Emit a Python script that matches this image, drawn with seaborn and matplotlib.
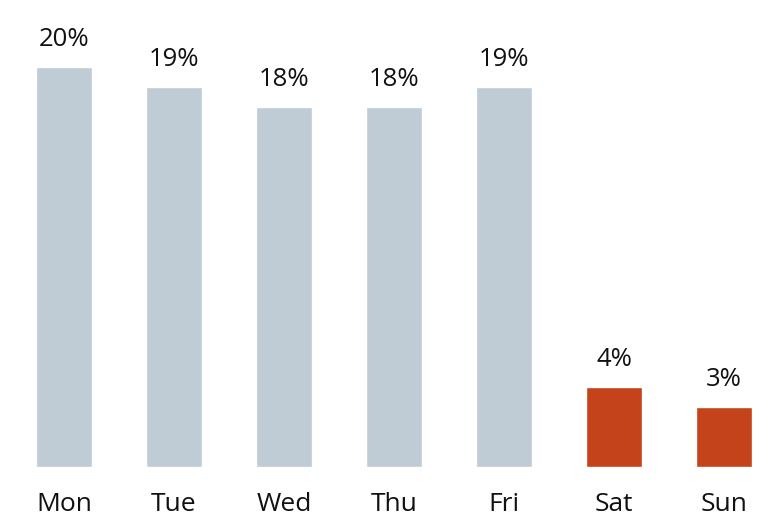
import matplotlib
matplotlib.use("Agg")
import matplotlib.pyplot as plt
import seaborn as sns
import pandas as pd

days = ["Mon", "Tue", "Wed", "Thu", "Fri", "Sat", "Sun"]
shares = [20, 19, 18, 18, 19, 4, 3]
groups = ["weekday"] * 5 + ["weekend"] * 2

sns.set_theme(style="white")
plt.rcParams["font.family"] = ["Open Sans", "DejaVu Sans"]

df = pd.DataFrame({"day": days, "share": shares, "group": groups})

fig = plt.figure(figsize=(7.62, 5.19), dpi=100)
ax = fig.add_axes([0, 52 / 519, 1, 467 / 519])
sns.barplot(data=df, x="day", y="share", hue="group",
            palette={"weekday": "#bfcbd5", "weekend": "#c4431b"},
            dodge=False, width=0.51, legend=False, ax=ax, saturation=1)

for cont in ax.containers:
    ax.bar_label(cont, labels=[f"{v:.0f}%" for v in cont.datavalues],
                 padding=11, fontsize=18.5, color="#111111")

ax.set_xlim(-0.582, 6.345)
ax.set_ylim(0, 23.35)
ax.set_xlabel("")
ax.set_ylabel("")
ax.set_yticks([])
ax.tick_params(axis="x", length=0, pad=18, labelsize=19, labelcolor="#111111")
for s in ax.spines.values():
    s.set_visible(False)

fig.savefig("out.png", dpi=100)
